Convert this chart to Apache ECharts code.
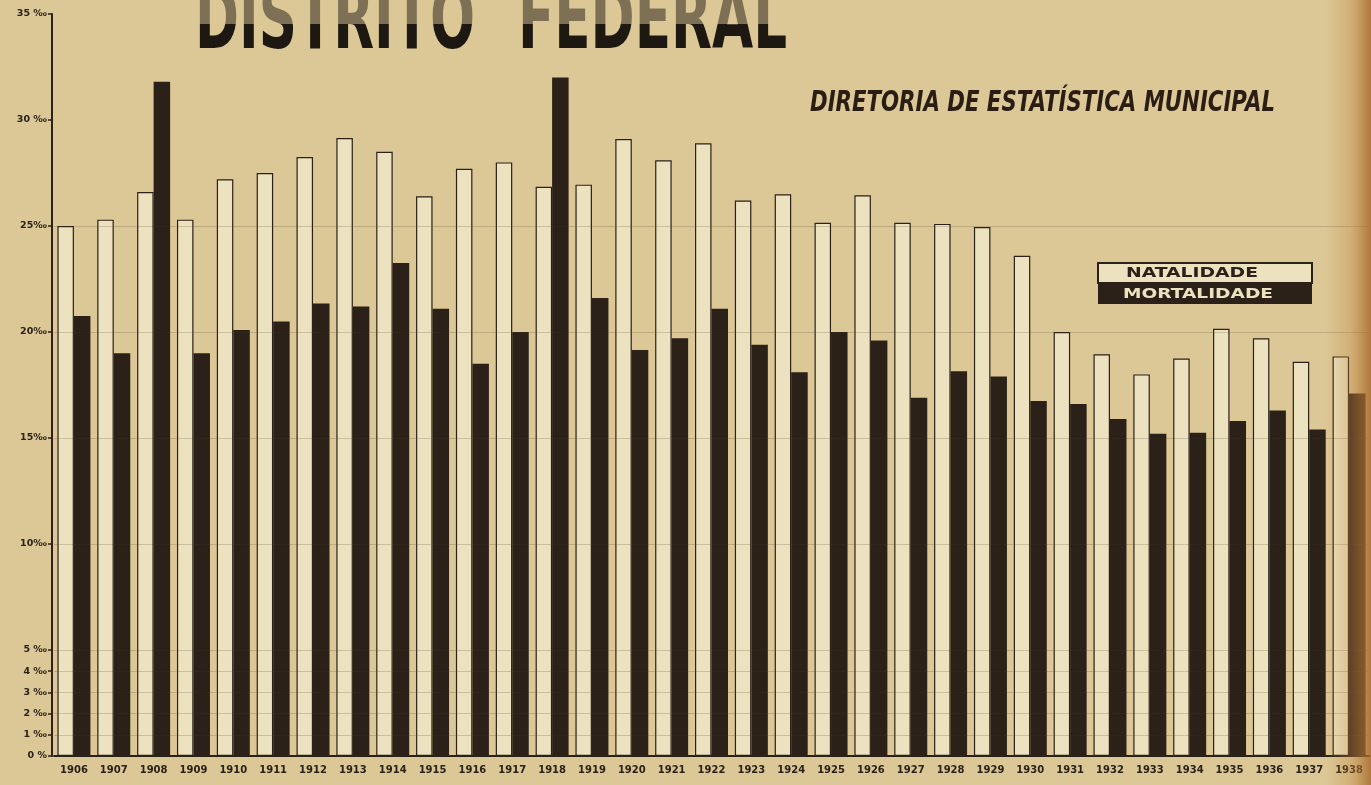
<!DOCTYPE html>
<html>
<head>
<meta charset="utf-8">
<script src="https://cdn.jsdelivr.net/npm/echarts@6/dist/echarts.min.js"></script>
<style>
html,body{margin:0;padding:0;background:#dcc896;}
#c{width:1371px;height:785px;}
</style>
</head>
<body>
<div id="c"></div>
<script>
// ---------- DATA ----------
const years = ['1906','1907','1908','1909','1910','1911','1912','1913','1914','1915','1916','1917','1918','1919','1920','1921','1922','1923','1924','1925','1926','1927','1928','1929','1930','1931','1932','1933','1934','1935','1936','1937','1938'];
const natalidade = [25.0,25.3,26.6,25.3,27.2,27.5,28.25,29.15,28.5,26.4,27.7,28.0,26.85,26.95,29.1,28.1,28.9,26.2,26.5,25.15,26.45,25.15,25.1,24.95,23.6,20.0,18.95,18.0,18.75,20.15,19.7,18.6,18.85];
const mortalidade = [20.75,19.0,31.8,19.0,20.1,20.5,21.35,21.2,23.25,21.1,18.5,20.0,32.0,21.6,19.15,19.7,21.1,19.4,18.1,20.0,19.6,16.9,18.15,17.9,16.75,16.6,15.9,15.2,15.25,15.8,16.3,15.4,17.1];
const yTickValues = [0,1,2,3,4,5,10,15,20,25,30,35];
const yTickLabels = ['0 %','1 ‰','2 ‰','3 ‰','4 ‰','5 ‰','10‰','15‰','20‰','25‰','30 ‰','35 ‰'];
const gridLineValues = [1,2,3,4,5,10,15,20,25];
const titleWords = ['DISTRITO','FEDERAL'];
const subtitleText = 'DIRETORIA DE ESTATÍSTICA MUNICIPAL';
const seriesNames = ['NATALIDADE','MORTALIDADE'];

// ---------- STYLE ----------
const DARK = '#2b2118';
const LIGHT = '#ece2bf';
const BG = '#dcc896';

function measure(text, font){
  const ctx = document.createElement('canvas').getContext('2d');
  ctx.font = font;
  return ctx.measureText(text).width;
}
function fitText(text, x, y, width, size, weight, style, family, fill, extra){
  const font = style + ' ' + weight + ' ' + size + 'px ' + family;
  const w = measure(text, font);
  return Object.assign({
    type:'text', x:x, y:y, scaleX: width / w, silent:true,
    style:{text:text, fontSize:size, fontWeight:weight, fontStyle:style, fontFamily:family,
      fill:fill, align:'left', verticalAlign:'middle', textAlign:'left', textVerticalAlign:'middle'}
  }, extra || {});
}

const chart = echarts.init(document.getElementById('c'), null, {renderer:'canvas'});
const option = {
  backgroundColor: BG,
  animation:false,
  grid:{left:54, right:2, top:14, bottom:29},
  xAxis:{
    type:'category', data:years,
    axisLine:{show:true, lineStyle:{color:DARK, width:2}},
    axisTick:{show:false},
    axisLabel:{color:DARK, fontSize:10, fontWeight:'bold', fontFamily:'DejaVu Sans', margin:9}
  },
  yAxis:[{
    type:'value', min:0, max:35, position:'left', offset:2,
    axisLine:{show:true, lineStyle:{color:DARK, width:2}},
    axisTick:{show:true, length:4, customValues:yTickValues, lineStyle:{color:DARK, width:1.5}},
    axisLabel:{customValues:yTickValues, color:DARK, fontSize:9.5, fontWeight:'bold', fontFamily:'DejaVu Sans', margin:5,
      formatter:function(v){ const i = yTickValues.indexOf(v); return i>=0 ? yTickLabels[i] : ''; }},
    splitLine:{show:false}
  },{
    type:'value', min:0, max:35, position:'right', z:3,
    axisLine:{show:false}, axisLabel:{show:false},
    axisTick:{show:false, customValues:gridLineValues},
    splitLine:{show:true, lineStyle:{color:'rgba(70,55,35,0.2)', width:1}}
  }],
  series:[{
    name:seriesNames[0], type:'bar', data:natalidade, barWidth:16.5, barGap:'0%',
    itemStyle:{color:LIGHT, borderColor:DARK, borderWidth:1.2}
  },{
    name:seriesNames[1], type:'bar', data:mortalidade, barWidth:16.5, barGap:'0%',
    itemStyle:{color:DARK}
  }],
  graphic:[
    fitText(titleWords[0], 195, 25, 280, 88, 'bold', 'normal', 'DejaVu Sans', '#1e1813'),
    fitText(titleWords[1], 518, 25, 269, 88, 'bold', 'normal', 'DejaVu Sans', '#1e1813'),
    {type:'rect', silent:true, z:50, shape:{x:185, y:0, width:610, height:24}, style:{fill:'rgba(220,200,150,0.5)'}},
    fitText(subtitleText, 810, 104, 465, 28, 'bold', 'italic', 'DejaVu Sans', '#2a1d14'),
    {type:'rect', silent:true, shape:{x:1098, y:263, width:214, height:20}, style:{fill:LIGHT, stroke:DARK, lineWidth:2}},
    {type:'rect', silent:true, shape:{x:1098, y:283, width:214, height:21}, style:{fill:DARK}},
    fitText(seriesNames[0], 1126, 273.5, 132, 14, 'bold', 'normal', 'DejaVu Sans', DARK),
    fitText(seriesNames[1], 1123, 294, 150, 14, 'bold', 'normal', 'DejaVu Sans', LIGHT),
    {type:'rect', silent:true, z:100, shape:{x:1325, y:0, width:46, height:785},
      style:{fill:new echarts.graphic.LinearGradient(0,0,1,0,[
        {offset:0,color:'rgba(190,130,60,0)'},{offset:0.55,color:'rgba(190,130,60,0.35)'},{offset:1,color:'rgba(165,105,45,0.85)'}])}}
  ]
};
chart.setOption(option);
</script>
</body>
</html>
